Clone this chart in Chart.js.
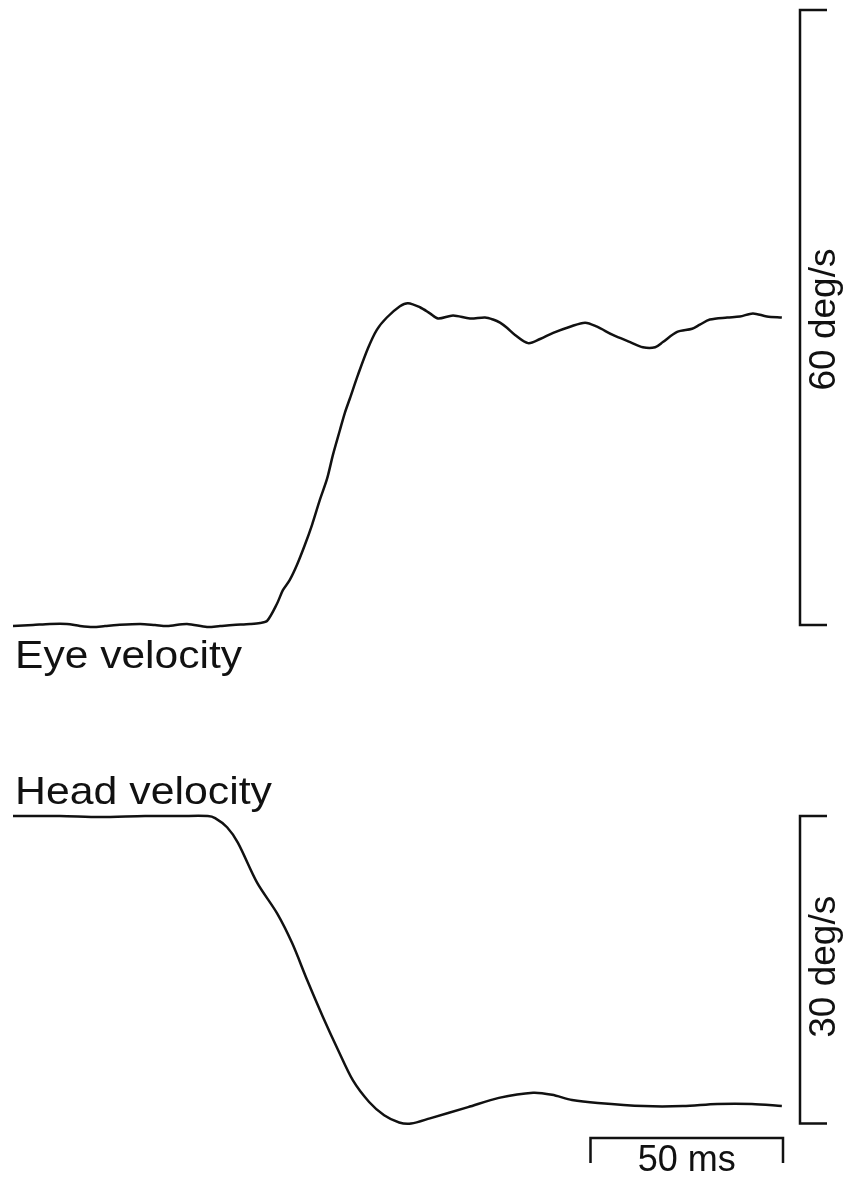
<!DOCTYPE html>
<html>
<head>
<meta charset="utf-8">
<script src="https://cdn.jsdelivr.net/npm/chart.js@4.4.1/dist/chart.umd.min.js"></script>
<style>
  html, body { margin: 0; padding: 0; background: #ffffff; }
  #wrap { width: 846px; height: 1178px; }
</style>
</head>
<body>
<div id="wrap"><canvas id="c" width="846" height="1178"></canvas></div>
<script>
// Eye velocity trace: time (ms) and velocity (deg/s)
const eyeTimeMs = [0, 5.2, 9.6, 14.0, 17.4, 20.8, 23.9, 27.0, 33.0, 36.9, 40.0, 45.2, 50.4, 53.8, 57.1, 61.6, 64.2, 66.0,
  68.6, 70.1, 71.9, 73.8, 75.8, 77.7, 79.7, 81.6, 83.1, 84.9, 86.2, 87.5, 89.6, 92.2, 94.5, 97.1, 100.5, 102.6,
  105.7, 108.3, 110.4, 114.3, 118.7, 122.6, 124.7, 126.5, 128.3, 130.4, 133.8, 136.9, 140.3, 144.7, 148.6, 151.7,
  155.8, 160.3, 163.6, 166.8, 168.8, 172.5, 176.4, 178.4, 181.0, 185.5, 188.8, 192.2, 195.8, 199.7];
const eyeVelDeg = [-0.1, 0, 0.1, 0.1, -0.1, -0.2, -0.1, 0, 0.1, 0, -0.1, 0.1, -0.2, -0.1, 0, 0.1, 0.2, 0.4,
  2.1, 3.4, 4.4, 5.9, 7.8, 9.8, 12.2, 14.3, 16.6, 19.0, 20.7, 22.1, 24.4, 27.0, 28.8, 30.0, 31.1, 31.4,
  31.0, 30.4, 29.9, 30.2, 29.9, 30.0, 29.8, 29.5, 29.0, 28.3, 27.5, 27.9, 28.5, 29.1, 29.5, 29.1,
  28.3, 27.6, 27.1, 27.1, 27.6, 28.6, 28.9, 29.3, 29.8, 30.0, 30.1, 30.4, 30.1, 30.0];

// Head velocity trace: time (ms) and velocity (deg/s)
const headTimeMs = [0, 12.2, 22.6, 34.3, 43.4, 50.6, 52.5, 55.6, 58.4, 63.4, 68.6, 72.5, 76.4, 80.5, 84.4, 88.3,
  92.5, 96.4, 100.3, 103.4, 108.3, 118.2, 126.2, 135.1, 140.0, 145.2, 151.9, 163.9, 174.0, 182.9, 191.9, 199.7];
const headVelDeg = [0, 0, -0.1, 0, 0, 0, -0.2, -1.1, -2.6, -6.5, -9.5, -12.4, -16.0, -19.6, -22.8, -25.8,
  -27.9, -29.2, -29.9, -30.0, -29.5, -28.4, -27.5, -27.0, -27.2, -27.7, -28.0, -28.3, -28.3, -28.1, -28.1, -28.3];

// Calibration bars
const eyeScaleDeg = 60;
const headScaleDeg = 30;
const timeScaleStartMs = 150;
const timeScaleMs = 50;

const traceLabels = ['Eye velocity', 'Head velocity'];
const scaleLabels = ['60 deg/s', '30 deg/s', '50 ms'];

// Layout (pixels)
const W = 846, H = 1178;
const X0 = 13, PX_PER_MS = 3.85;
const PX_PER_DEG = 10.25;
const EYE_ZERO_Y = 625, HEAD_ZERO_Y = 816;
const BAR_X = 800, BAR_TICK = 27;
const FONT = '"Liberation Sans", Arial, Helvetica, sans-serif';
const INK = '#111111';

const toPoints = (t, v) => t.map((x, i) => ({ x: x, y: v[i] }));

const calibration = {
  id: 'calibration',
  afterDraw(chart) {
    const ctx = chart.ctx;
    const xs = chart.scales.x, ye = chart.scales.yEye, yh = chart.scales.yHead;
    ctx.save();
    ctx.strokeStyle = INK;
    ctx.fillStyle = INK;
    ctx.lineWidth = 2.5;
    ctx.lineJoin = 'miter';
    ctx.lineCap = 'butt';

    // vertical bars with ticks pointing right
    const vbar = (top, bottom) => {
      ctx.beginPath();
      ctx.moveTo(BAR_X + BAR_TICK, top);
      ctx.lineTo(BAR_X, top);
      ctx.lineTo(BAR_X, bottom);
      ctx.lineTo(BAR_X + BAR_TICK, bottom);
      ctx.stroke();
    };
    const eTop = ye.getPixelForValue(eyeScaleDeg), eBot = ye.getPixelForValue(0);
    const hTop = yh.getPixelForValue(0), hBot = yh.getPixelForValue(-headScaleDeg);
    vbar(eTop, eBot);
    vbar(hTop, hBot);

    // time bar with ticks pointing down
    const tx0 = xs.getPixelForValue(timeScaleStartMs);
    const tx1 = xs.getPixelForValue(timeScaleStartMs + timeScaleMs);
    const ty = 1138, tdrop = 25;
    ctx.beginPath();
    ctx.moveTo(tx0, ty + tdrop);
    ctx.lineTo(tx0, ty);
    ctx.lineTo(tx1, ty);
    ctx.lineTo(tx1, ty + tdrop);
    ctx.stroke();

    // trace names
    ctx.font = '39px ' + FONT;
    ctx.textBaseline = 'alphabetic';
    ctx.textAlign = 'left';
    const stretched = (txt, x, y, width) => {
      const w = ctx.measureText(txt).width;
      ctx.save();
      ctx.translate(x, y);
      ctx.scale(width / w, 1);
      ctx.fillText(txt, 0, 0);
      ctx.restore();
    };
    stretched(traceLabels[0], 15, 668, 227);
    stretched(traceLabels[1], 15, 804, 257);

    // rotated calibration labels
    ctx.font = '37px ' + FONT;
    const vlabel = (txt, cy) => {
      ctx.save();
      ctx.translate(835, cy);
      ctx.rotate(-Math.PI / 2);
      ctx.textAlign = 'center';
      ctx.fillText(txt, 0, 0);
      ctx.restore();
    };
    vlabel(scaleLabels[0], (eTop + eBot) / 2 + 2);
    vlabel(scaleLabels[1], (hTop + hBot) / 2 - 3);

    ctx.font = '36px ' + FONT;
    ctx.textAlign = 'center';
    ctx.fillText(scaleLabels[2], (tx0 + tx1) / 2, 1171);
    ctx.restore();
  }
};

new Chart(document.getElementById('c'), {
  type: 'line',
  data: {
    datasets: [
      { label: traceLabels[0], data: toPoints(eyeTimeMs, eyeVelDeg), yAxisID: 'yEye' },
      { label: traceLabels[1], data: toPoints(headTimeMs, headVelDeg), yAxisID: 'yHead' }
    ]
  },
  options: {
    responsive: false,
    animation: false,
    events: [],
    layout: { padding: 0 },
    elements: {
      line: { borderColor: INK, borderWidth: 2.5, tension: 0.3, fill: false, capBezierPoints: true },
      point: { radius: 0 }
    },
    plugins: { legend: { display: false }, tooltip: { enabled: false }, title: { display: false } },
    scales: {
      x: { type: 'linear', display: false, min: -X0 / PX_PER_MS, max: (W - X0) / PX_PER_MS },
      yEye: { type: 'linear', display: false, min: (EYE_ZERO_Y - H) / PX_PER_DEG, max: EYE_ZERO_Y / PX_PER_DEG },
      yHead: { type: 'linear', display: false, min: (HEAD_ZERO_Y - H) / PX_PER_DEG, max: HEAD_ZERO_Y / PX_PER_DEG }
    }
  },
  plugins: [calibration]
});
</script>
</body>
</html>
